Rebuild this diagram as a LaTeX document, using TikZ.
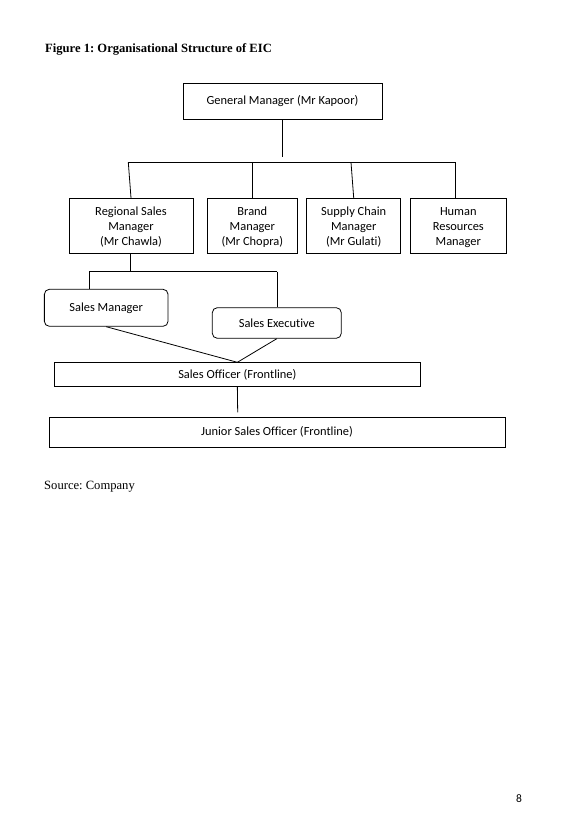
\documentclass[tikz,border=0pt]{standalone}
\usepackage{fontspec}
\setmainfont{Liberation Serif}
\newfontfamily\carlito[Ligatures=NoCommon]{Carlito}
\frenchspacing
\newcommand{\topst}{\rule{0pt}{12.9pt}}
\newcommand{\botst}{\rule[-4.5pt]{0pt}{4.5pt}}
\begin{document}
\begin{tikzpicture}[x=1pt,y=-1pt,
  box/.style={draw, line width=0.8pt, inner sep=0pt, align=center,
    font=\carlito\fontsize{12.4}{15}\selectfont},
  rbox/.style={box, rounded corners=5pt},
  link/.style={line width=0.8pt}]
\useasboundingbox (0,0) rectangle (565,832);
\node[anchor=base west, inner sep=0pt, font=\bfseries\fontsize{12.6}{15}\selectfont] (title) at (45,52.7) {Figure 1: Organisational Structure of EIC};
\node[anchor=base west, inner sep=0pt, font=\fontsize{12.6}{15}\selectfont] (source) at (44,489) {Source: Company};
\node[anchor=base, inner sep=0pt, font=\carlito\fontsize{11.5}{14}\selectfont] (page) at (519,802) {8};

\node[box, minimum width=199, minimum height=36] (gm) at (282.5,101.3) {General Manager (Mr Kapoor)};
\node[box, minimum width=124, minimum height=55] (rsm) at (131,225.8) {\topst Regional Sales\\Manager\\(Mr Chawla)\botst};
\node[box, minimum width=89.3, minimum height=55] (bm) at (252.35,225.8) {\topst Brand\\Manager\\(Mr Chopra)\botst};
\node[box, minimum width=94, minimum height=55] (scm) at (353.7,225.8) {\topst Supply Chain\\Manager\\(Mr Gulati)\botst};
\node[box, minimum width=96, minimum height=55] (hrm) at (458.3,225.8) {\topst Human\\Resources\\Manager\botst};
\node[rbox, minimum width=123.7, minimum height=37] (sm) at (106.2,307.8) {Sales Manager};
\node[rbox, minimum width=129, minimum height=30.6] (se) at (276.8,323) {Sales Executive};
\node[box, minimum width=366.7, minimum height=24] (so) at (237.35,374.7) {Sales Officer (Frontline)};
\node[box, minimum width=456, minimum height=30] (jso) at (277,432.3) {Junior Sales Officer (Frontline)};

\coordinate (gmend) at (282.7,157);
\coordinate (barl) at (128.3,162.3);
\coordinate (barr) at (455.7,162.3);
\coordinate (brandtop) at (252.3,162.3);
\coordinate (sctop) at (351,162.3);
\coordinate (rsmbar) at (130.7,271.7);
\coordinate (subl) at (89,271.7);
\coordinate (subr) at (277.3,271.7);
\coordinate (soend) at (237.7,412.3);

\draw[link] (gm.south -| gmend) -- (gmend);
\draw[link] (barl) -- (barr);
\draw[link] (barl) -- (rsm.north);
\draw[link] (brandtop) -- (brandtop |- bm.north);
\draw[link] (sctop) -- (scm.north);
\draw[link] (barr) -- (barr |- hrm.north);
\draw[link] (rsm.south -| rsmbar) -- (rsmbar);
\draw[link] (subl) -- (subr);
\draw[link] (subl) -- (subl |- sm.north);
\draw[link] (subr) -- (subr |- se.north);
\draw[link] (sm.south) -- (so.north);
\draw[link] (se.south) -- (so.north);
\draw[link] (so.south) -- (soend);
\end{tikzpicture}
\end{document}
